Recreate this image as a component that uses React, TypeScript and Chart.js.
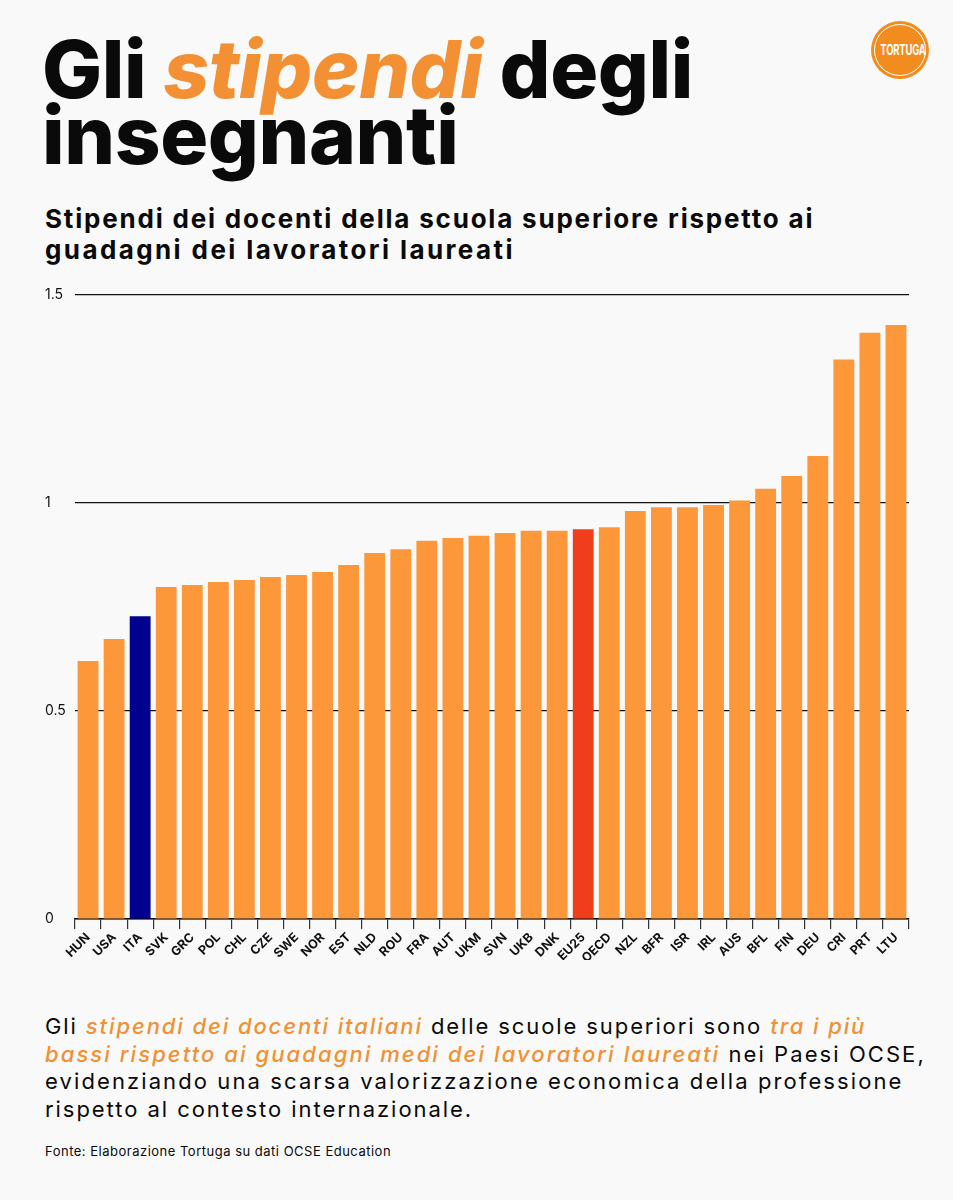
import React, { useEffect, useRef } from "react";
import { Chart, registerables } from "chart.js";

Chart.register(...registerables);

const categories = [
  "HUN", "USA", "ITA", "SVK", "GRC", "POL", "CHL", "CZE", "SWE", "NOR", "EST",
  "NLD", "ROU", "FRA", "AUT", "UKM", "SVN", "UKB", "DNK", "EU25", "OECD", "NZL",
  "BFR", "ISR", "IRL", "AUS", "BFL", "FIN", "DEU", "CRI", "PRT", "LTU",
];
const ratios = [
  0.62, 0.673, 0.728, 0.798, 0.803, 0.81, 0.815, 0.822, 0.827, 0.834, 0.851,
  0.88, 0.889, 0.909, 0.916, 0.921, 0.928, 0.933, 0.933, 0.937, 0.942, 0.981,
  0.99, 0.99, 0.995, 1.006, 1.034, 1.065, 1.113, 1.345, 1.409, 1.428,
];
const yTicks = [0, 0.5, 1, 1.5];
const italyCode = "ITA";
const euCode = "EU25";

const ORANGE = "#FC983A";
const BLUE = "#00008F";
const RED = "#F03E1C";
const TITLE_ORANGE = "#F39033";
const FONT = "Inter, 'Noto Sans', sans-serif";

function barColor(code: string): string {
  if (code === italyCode) return BLUE;
  if (code === euCode) return RED;
  return ORANGE;
}

function BarChart() {
  const ref = useRef<HTMLCanvasElement | null>(null);
  useEffect(() => {
    if (!ref.current) return;
    const chart = new Chart(ref.current, {
      type: "bar",
      data: {
        labels: categories,
        datasets: [
          {
            data: ratios,
            backgroundColor: categories.map(barColor),
            borderWidth: 0,
            barPercentage: 0.8,
            categoryPercentage: 1,
          },
        ],
      },
      options: {
        animation: false,
        responsive: false,
        maintainAspectRatio: false,
        layout: { padding: { left: 45, right: 44, top: 15, bottom: 0 } },
        plugins: { legend: { display: false }, tooltip: { enabled: false } },
        scales: {
          x: {
            grid: {
              display: true,
              drawOnChartArea: false,
              drawTicks: true,
              tickLength: 10,
              color: "#333",
              lineWidth: 1.2,
            },
            border: { display: true, color: "#111", width: 1.5 },
            ticks: {
              autoSkip: false,
              minRotation: 45,
              maxRotation: 45,
              padding: 1,
              color: "#111",
              font: { family: FONT, size: 12.5, weight: "bold" },
            },
            afterFit: (s: any) => {
              s.height = 41;
            },
          },
          y: {
            min: 0,
            max: 1.5,
            afterBuildTicks: (s: any) => {
              s.ticks = yTicks.map((v) => ({ value: v }));
            },
            grid: { color: "#111", lineWidth: 1.2, drawTicks: false },
            border: { display: false },
            ticks: {
              crossAlign: "far",
              padding: 0,
              color: "#111",
              font: { family: FONT, size: 14 },
              callback: (v: any) => String(v),
            },
            afterFit: (s: any) => {
              s.width = 30;
            },
          },
        },
      },
    } as any);
    return () => chart.destroy();
  }, []);
  return (
    <canvas
      ref={ref}
      width={953}
      height={680}
      style={{ position: "absolute", left: 0, top: 280, width: 953, height: 680 }}
    />
  );
}

export default function App() {
  useEffect(() => {
    document.body.style.margin = "0";
    document.body.style.background = "#F9F9F9";
  }, []);
  const em: React.CSSProperties = { color: TITLE_ORANGE, fontStyle: "italic", fontWeight: 500 };
  const titleLine: React.CSSProperties = {
    position: "absolute",
    left: 42,
    fontSize: 80,
    lineHeight: "80px",
    fontWeight: 800,
    whiteSpace: "nowrap",
    letterSpacing: -0.4,
  };
  const paraLine: React.CSSProperties = {
    fontSize: 22,
    lineHeight: "27.7px",
    height: 27.7,
    whiteSpace: "nowrap",
  };
  return (
    <div
      style={{
        position: "relative",
        width: 953,
        height: 1200,
        background: "#F9F9F9",
        fontFamily: FONT,
        color: "#0a0a0a",
        overflow: "hidden",
      }}
    >
      <div style={{ ...titleLine, top: 29 }}>
        Gli <span style={{ color: TITLE_ORANGE, fontStyle: "italic" }}>stipendi</span> degli
      </div>
      <div style={{ ...titleLine, top: 95 }}>insegnanti</div>

      <div
        style={{
          position: "absolute",
          left: 871,
          top: 21,
          width: 58,
          height: 58,
          borderRadius: "50%",
          background: "#F28C1E",
        }}
      >
        <div
          style={{
            position: "absolute",
            left: 3,
            top: 3,
            width: 50,
            height: 50,
            borderRadius: "50%",
            border: "1px solid #FFFFFF",
          }}
        />
        <div
          style={{
            position: "absolute",
            left: 0,
            top: 0,
            width: 58,
            height: 58,
            lineHeight: "58px",
            textAlign: "center",
            color: "#FFFFFF",
            fontFamily: FONT,
            fontWeight: 700,
            fontSize: 14,
            transform: "scaleX(0.68)",
            letterSpacing: -0.3,
          }}
        >
          TORTUGA
        </div>
      </div>

      <div
        style={{
          position: "absolute",
          left: 45,
          top: 203,
          fontSize: 26,
          lineHeight: "31px",
          fontWeight: 700,
          whiteSpace: "nowrap",
        }}
      >
        <div style={{ letterSpacing: 1.8 }}>Stipendi dei docenti della scuola superiore rispetto ai</div>
        <div style={{ letterSpacing: 2.4 }}>guadagni dei lavoratori laureati</div>
      </div>

      <BarChart />

      <div style={{ position: "absolute", left: 45, top: 1013 }}>
        <div style={{ ...paraLine, letterSpacing: 1.9 }}>
          Gli <span style={em}>stipendi dei docenti italiani</span> delle scuole superiori sono{" "}
          <span style={em}>tra i più</span>
        </div>
        <div style={{ ...paraLine, letterSpacing: 2.07 }}>
          <span style={em}>bassi rispetto ai guadagni medi dei lavoratori laureati</span> nei Paesi OCSE,
        </div>
        <div style={{ ...paraLine, letterSpacing: 2.1 }}>
          evidenziando una scarsa valorizzazione economica della professione
        </div>
        <div style={{ ...paraLine, letterSpacing: 1.95 }}>rispetto al contesto internazionale.</div>
      </div>

      <div
        style={{
          position: "absolute",
          left: 45,
          top: 1145,
          fontSize: 13,
          lineHeight: "13px",
          whiteSpace: "nowrap",
          letterSpacing: 0.5,
        }}
      >
        Fonte: Elaborazione Tortuga su dati OCSE Education
      </div>
    </div>
  );
}
